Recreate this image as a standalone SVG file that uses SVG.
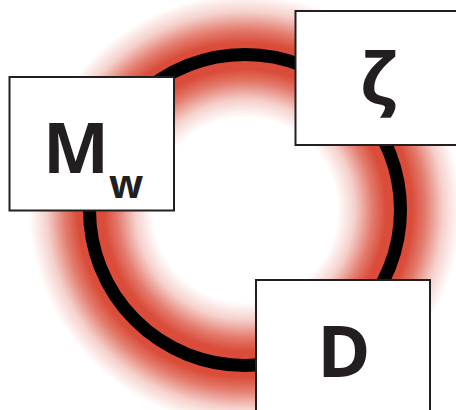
<svg xmlns="http://www.w3.org/2000/svg" width="456" height="410" viewBox="0 0 456 410">
  <defs>
    <radialGradient id="glow" gradientUnits="userSpaceOnUse" cx="245" cy="210" r="220">
      <stop offset="0.42" stop-color="#d8432f" stop-opacity="0"/>
      <stop offset="0.50" stop-color="#d8432f" stop-opacity="0.25"/>
      <stop offset="0.58" stop-color="#d8432f" stop-opacity="0.7"/>
      <stop offset="0.64" stop-color="#d8432f" stop-opacity="0.95"/>
      <stop offset="0.76" stop-color="#d8432f" stop-opacity="0.95"/>
      <stop offset="0.82" stop-color="#d8432f" stop-opacity="0.7"/>
      <stop offset="0.90" stop-color="#d8432f" stop-opacity="0.25"/>
      <stop offset="0.98" stop-color="#d8432f" stop-opacity="0"/>
    </radialGradient>
  </defs>
  <style>
    .box { fill: #ffffff; stroke: #231f20; stroke-width: 2; }
    .lbl { font-family: "Open Sans", "DejaVu Sans", sans-serif; font-weight: 700; fill: #231f20; }
  </style>
  <rect width="456" height="410" fill="#ffffff"/>
  <g id="connectors">
    <circle cx="245" cy="210" r="220" fill="url(#glow)"/>
    <circle cx="245" cy="210" r="155.5" fill="none" stroke="#000000" stroke-width="13"/>
  </g>
  <g id="node-mw">
    <rect class="box" x="9.5" y="77" width="164.5" height="133.5"/>
    <text class="lbl" x="43" y="173" font-size="70">M</text>
    <text class="lbl" x="109" y="198" font-size="40">w</text>
  </g>
  <g id="node-zeta">
    <rect class="box" x="295.5" y="11" width="170" height="134"/>
    <text class="lbl" x="378" y="105" font-size="72" text-anchor="middle">ζ</text>
  </g>
  <g id="node-d">
    <rect class="box" x="256" y="280" width="174" height="140"/>
    <text class="lbl" x="344" y="377" font-size="72" text-anchor="middle">D</text>
  </g>
</svg>
